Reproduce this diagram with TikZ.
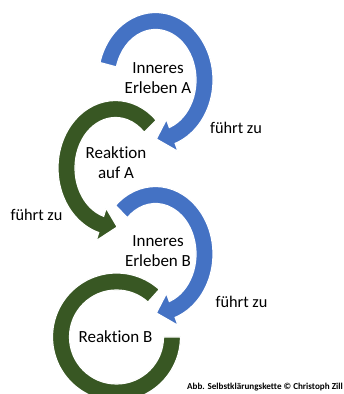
\documentclass[tikz,border=0pt]{standalone}
\usepackage{fontspec}
\setmainfont{Carlito}[Ligatures={NoCommon,TeX}]
\usetikzlibrary{calc}
\definecolor{oblue}{HTML}{4472C4}
\definecolor{ogreen}{HTML}{385723}
% #1 colour, #2 centre, #3 tail angle, #4 arrow-back angle, #5 tip angle
\newcommand\ringarrow[5]{%
  \path[fill=#1, band]
    ($(#2)+(#3:57.5 and 67.5)$) arc[start angle=#3, end angle=#4, x radius=57.5, y radius=67.5]
    -- ($(#2)+(#4:66 and 76)$) -- ($(#2)+(#5:49 and 59)$) -- ($(#2)+(#4:32 and 42)$)
    -- ($(#2)+(#4:40.5 and 50.5)$) arc[start angle=#4, end angle=#3, x radius=40.5, y radius=50.5]
    -- cycle;}
\begin{document}
\begin{tikzpicture}[x=1pt,y=1pt,
  band/.style={draw=white, line width=1.2pt, line join=miter},
  lbl/.style={font=\fontsize{17}{20}\selectfont, align=center, inner sep=0pt},
  fz/.style={font=\fontsize{16.3}{19}\selectfont, inner sep=0pt},
  captext/.style={font=\fontsize{9.1}{10}\selectfont\bfseries, inner sep=0pt, anchor=east}]
\useasboundingbox (0,0) rectangle (344,394);
\clip (0,0) rectangle (344,394);
\fill[white] (0,0) rectangle (344,394);
\coordinate (cA) at (155.5,314);
\coordinate (cB) at (115.5,226);
\coordinate (cC) at (155.5,140);
\coordinate (cD) at (116.5,57);
% rings
\ringarrow{oblue}{cA}{165}{-70}{-89}
\ringarrow{ogreen}{cB}{45}{253}{272}
\ringarrow{oblue}{cC}{134}{-70}{-89}
\path[fill=ogreen, band]
  ($(cD)+(48:64)$) arc[start angle=48, end angle=360, radius=64]
  -- ($(cD)+(0:47)$) arc[start angle=360, end angle=48, radius=47] -- cycle;
% labels
\node[lbl] (tA) at (158,316) {Inneres\\Erleben A};
\node[lbl] (tB) at (116,231) {Reaktion\\auf A};
\node[lbl] (tC) at (158,143) {Inneres\\Erleben B};
\node[lbl] (tD) at (115.5,57) {Reaktion B};
\node[fz] (f1) at (236,266) {führt zu};
\node[fz] (f2) at (36.5,179) {führt zu};
\node[fz] (f3) at (241.5,92) {führt zu};
\node[captext] (cp) at (343,6.5) {Abb. Selbstklärungskette © Christoph Zill};
\end{tikzpicture}
\end{document}
